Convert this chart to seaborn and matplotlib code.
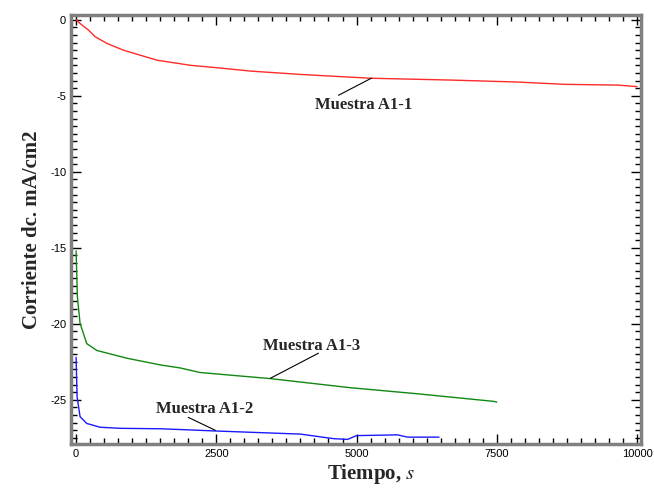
import matplotlib
matplotlib.use("Agg")
import matplotlib.pyplot as plt
from matplotlib.ticker import MultipleLocator
import pandas as pd
import seaborn as sns

# Muestra A1-1 (rojo)
t_a11 = [0, 71, 220, 340, 550, 840, 1440, 2040, 2630, 3110, 4000, 5250, 6680, 7875, 8700, 9660, 10000]
i_a11 = [0.0, -0.25, -0.68, -1.12, -1.56, -2.0, -2.66, -3.0, -3.2, -3.38, -3.6, -3.85, -3.97, -4.1, -4.25, -4.3, -4.4]

# Muestra A1-3 (verde)
t_a13 = [0, 23, 71, 190, 370, 905, 1500, 1857, 2210, 3460, 4890, 6090, 7450, 7500]
i_a13 = [-15.2, -18.2, -19.96, -21.3, -21.75, -22.26, -22.7, -22.9, -23.2, -23.6, -24.2, -24.6, -25.1, -25.15]

# Muestra A1-2 (azul)
t_a12 = [0, 18, 71, 190, 430, 790, 1500, 1857, 2520, 4000, 4590, 4840, 5000, 5730, 5910, 6460, 6470]
i_a12 = [-22.2, -24.8, -26.1, -26.55, -26.8, -26.87, -26.9, -26.95, -27.05, -27.25, -27.55, -27.6, -27.35, -27.3, -27.45, -27.45, -27.45]

labels = ["Muestra A1-1", "Muestra A1-3", "Muestra A1-2"]
colors = ["#ff2a2a", "#118811", "#1a1aff"]

# posiciones de texto, inicio y fin de cada linea de etiqueta
text_pos = [(5125, -5.62), (4196, -21.48), (2286, -25.59)]
line_start = [(4679, -4.97), (4321, -21.93), (2000, -26.15)]
line_end = [(5268, -3.84), (3464, -23.58), (2482, -27.0)]

df = pd.concat([
    pd.DataFrame({"t": t_a11, "i": i_a11, "muestra": labels[0]}),
    pd.DataFrame({"t": t_a13, "i": i_a13, "muestra": labels[1]}),
    pd.DataFrame({"t": t_a12, "i": i_a12, "muestra": labels[2]}),
])

sns.set_style("ticks")
plt.rcParams["mathtext.fontset"] = "stix"
plt.rcParams["axes.unicode_minus"] = False

fig = plt.figure(figsize=(6.54, 4.88), dpi=100)
ax = fig.add_axes([0.1086, 0.0902, 0.8714, 0.8788])

sns.lineplot(data=df, x="t", y="i", hue="muestra", palette=dict(zip(labels, colors)),
             linewidth=1.0, legend=False, ax=ax, sort=False, estimator=None)

ax.set_xlim(-90, 10070)
ax.set_ylim(-27.9, 0.3)
ax.xaxis.set_major_locator(MultipleLocator(2500))
ax.xaxis.set_minor_locator(MultipleLocator(250))
ax.yaxis.set_major_locator(MultipleLocator(5))
ax.yaxis.set_minor_locator(MultipleLocator(0.5))
ax.tick_params(which="both", direction="in", top=True, right=True, colors="black",
               labelsize=8, labelfontfamily="Liberation Sans")
ax.tick_params(which="major", length=7, width=1)
ax.tick_params(which="minor", length=4, width=1)
for s in ax.spines.values():
    s.set_color("#808080")
    s.set_linewidth(2.5)

ax.set_xlabel("Tiempo, $s$", fontsize=15, fontfamily="Liberation Serif", fontweight="bold")
ax.xaxis.set_label_coords(0.526, -0.042)
ax.set_ylabel("Corriente dc. mA/cm2", fontsize=15, fontfamily="Liberation Serif", fontweight="bold", labelpad=6)

# etiquetas con linea
for lab, tp, ls, le in zip(labels, text_pos, line_start, line_end):
    ax.annotate("", xy=le, xytext=ls, arrowprops=dict(arrowstyle="-", color="black", lw=0.8,
                                                      shrinkA=0, shrinkB=0))
    ax.text(tp[0], tp[1], lab, fontsize=12, fontfamily="Liberation Serif", fontweight="bold",
            ha="center", va="center")

fig.savefig("out.png", dpi=100)
